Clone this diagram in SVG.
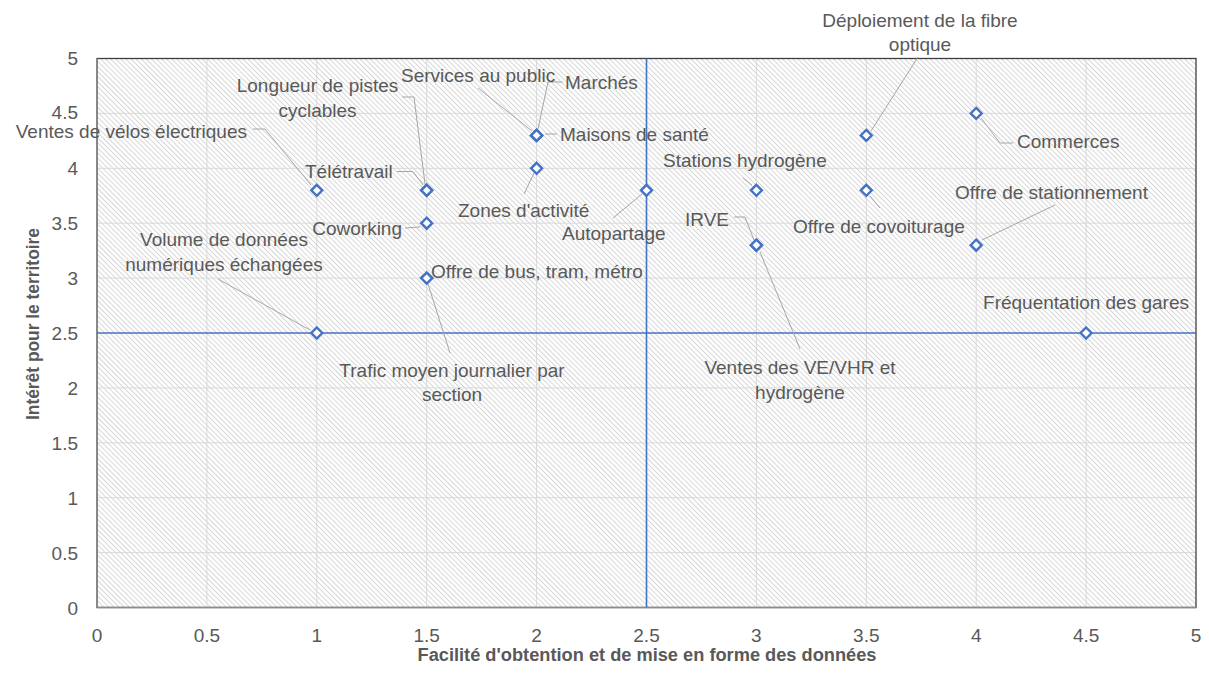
<svg xmlns="http://www.w3.org/2000/svg" width="1209" height="674" viewBox="0 0 1209 674">
<style>
text{font-family:"Liberation Sans",Arial,sans-serif;font-size:19px;fill:#595959}
.tick{font-size:19px}
.title{font-weight:bold;font-size:18px}
.grid line{stroke:#d9d9d9;stroke-width:1}
.leader{fill:none;stroke:#a6a6a6;stroke-width:1}
.ref{stroke:#4472C4;stroke-width:1.6}
</style>
<defs>
<pattern id="hatch" width="3.6" height="3.6" patternUnits="userSpaceOnUse" patternTransform="rotate(-45)">
<rect width="3.6" height="3.6" fill="#ffffff"/>
<line x1="0.5" y1="0" x2="0.5" y2="3.6" stroke="#d6d6d6" stroke-width="1"/>
</pattern>
<path id="dia" d="M0,-5.5 L5.5,0 L0,5.5 L-5.5,0 Z" fill="#ffffff" stroke="#4472C4" stroke-width="2.4" stroke-linejoin="miter"/>
</defs>
<rect width="1209" height="674" fill="#ffffff"/>
<g id="plot-area">
<rect x="97" y="58.5" width="1099" height="549" fill="url(#hatch)"/>
<g class="grid">
<line x1="206.9" y1="58.5" x2="206.9" y2="607.5"/>
<line x1="316.8" y1="58.5" x2="316.8" y2="607.5"/>
<line x1="426.7" y1="58.5" x2="426.7" y2="607.5"/>
<line x1="536.6" y1="58.5" x2="536.6" y2="607.5"/>
<line x1="756.4" y1="58.5" x2="756.4" y2="607.5"/>
<line x1="866.3" y1="58.5" x2="866.3" y2="607.5"/>
<line x1="976.2" y1="58.5" x2="976.2" y2="607.5"/>
<line x1="1086.1" y1="58.5" x2="1086.1" y2="607.5"/>
<line x1="97" y1="552.6" x2="1196" y2="552.6"/>
<line x1="97" y1="497.7" x2="1196" y2="497.7"/>
<line x1="97" y1="442.8" x2="1196" y2="442.8"/>
<line x1="97" y1="387.9" x2="1196" y2="387.9"/>
<line x1="97" y1="278.1" x2="1196" y2="278.1"/>
<line x1="97" y1="223.2" x2="1196" y2="223.2"/>
<line x1="97" y1="168.3" x2="1196" y2="168.3"/>
<line x1="97" y1="113.4" x2="1196" y2="113.4"/>
</g>
<rect x="97" y="58.5" width="1099" height="549" fill="none" stroke="#3f3f3f" stroke-width="1.3"/>
<line x1="97" y1="58.5" x2="97" y2="607.5" stroke="#8c8c8c" stroke-width="1.3"/>
<line x1="97" y1="607.5" x2="1196" y2="607.5" stroke="#8c8c8c" stroke-width="1.3"/>
<line class="ref" x1="646.5" y1="58.5" x2="646.5" y2="607.5"/>
<line class="ref" x1="97" y1="333" x2="1196" y2="333"/>
</g>
<g id="y-ticks" text-anchor="end">
<text x="78" y="65">5</text>
<text x="78" y="119">4.5</text>
<text x="78" y="175">4</text>
<text x="78" y="230">3.5</text>
<text x="78" y="285">3</text>
<text x="78" y="340">2.5</text>
<text x="78" y="395">2</text>
<text x="78" y="450">1.5</text>
<text x="78" y="504.5">1</text>
<text x="78" y="559.5">0.5</text>
<text x="78" y="614.5">0</text>
</g>
<g id="x-ticks" text-anchor="middle">
<text x="97" y="642">0</text>
<text x="206.9" y="642">0.5</text>
<text x="316.8" y="642">1</text>
<text x="426.7" y="642">1.5</text>
<text x="536.6" y="642">2</text>
<text x="646.5" y="642">2.5</text>
<text x="756.4" y="642">3</text>
<text x="866.3" y="642">3.5</text>
<text x="976.2" y="642">4</text>
<text x="1086.1" y="642">4.5</text>
<text x="1196" y="642">5</text>
</g>
<g id="axis-titles">
<text class="title" x="647" y="661" text-anchor="middle" textLength="459" lengthAdjust="spacingAndGlyphs">Facilité d'obtention et de mise en forme des données</text>
<text class="title" transform="translate(39,324) rotate(-90)" text-anchor="middle" textLength="192" lengthAdjust="spacingAndGlyphs">Intérêt pour le territoire</text>
</g>
<g id="connectors">
<polyline class="leader" points="253,129 265,129 311,185"/>
<polyline class="leader" points="402,97 414,97 425,184"/>
<polyline class="leader" points="397,171.5 413,171.5 423,185"/>
<polyline class="leader" points="405,228 420,227"/>
<polyline class="leader" points="218,279 310,330"/>
<polyline class="leader" points="428,284 450,353"/>
<polyline class="leader" points="478,88 532,131"/>
<polyline class="leader" points="563,82 548,82 538,129"/>
<polyline class="leader" points="545,134 557,134"/>
<polyline class="leader" points="524,194 534,173"/>
<polyline class="leader" points="613,218 642,194"/>
<polyline class="leader" points="743,178 752,185"/>
<polyline class="leader" points="734,217 745,217 754,240"/>
<polyline class="leader" points="760,252 800,349"/>
<polyline class="leader" points="918,57 871,131"/>
<polyline class="leader" points="1013,143 1000,143 981,118"/>
<polyline class="leader" points="880,208 870,196"/>
<polyline class="leader" points="1055,205 982,240"/>
</g>
<g id="n-velos"><use href="#dia" x="316.8" y="190.3"/><text x="247" y="137.5" text-anchor="end">Ventes de vélos électriques</text></g>
<g id="n-pistes"><use href="#dia" x="426.7" y="190.3"/><text x="317.5" y="91.5" text-anchor="middle">Longueur de pistes</text><text x="317.5" y="116.5" text-anchor="middle">cyclables</text></g>
<g id="n-teletravail"><use href="#dia" x="426.7" y="190.3"/><text x="305" y="177.5">Télétravail</text></g>
<g id="n-coworking"><use href="#dia" x="426.7" y="223.2"/><text x="402" y="235" text-anchor="end">Coworking</text></g>
<g id="n-bus"><use href="#dia" x="426.7" y="278.1"/><text x="431" y="278">Offre de bus, tram, métro</text></g>
<g id="n-trafic"><use href="#dia" x="426.7" y="278.1"/><text x="452" y="376.5" text-anchor="middle">Trafic moyen journalier par</text><text x="452" y="401" text-anchor="middle">section</text></g>
<g id="n-volume"><use href="#dia" x="316.8" y="333"/><text x="224" y="246" text-anchor="middle">Volume de données</text><text x="224" y="271" text-anchor="middle">numériques échangées</text></g>
<g id="n-services"><use href="#dia" x="536.6" y="135.4"/><text x="401" y="81.5">Services au public</text></g>
<g id="n-marches"><use href="#dia" x="536.6" y="135.4"/><text x="565" y="89">Marchés</text></g>
<g id="n-sante"><use href="#dia" x="536.6" y="135.4"/><text x="560" y="141">Maisons de santé</text></g>
<g id="n-zones"><use href="#dia" x="536.6" y="168.3"/><text x="458" y="217">Zones d'activité</text></g>
<g id="n-autopartage"><use href="#dia" x="646.5" y="190.3"/><text x="562" y="240">Autopartage</text></g>
<g id="n-hydrogene"><use href="#dia" x="756.4" y="190.3"/><text x="663" y="167">Stations hydrogène</text></g>
<g id="n-irve"><use href="#dia" x="756.4" y="245.2"/><text x="729" y="226" text-anchor="end">IRVE</text></g>
<g id="n-ve"><use href="#dia" x="756.4" y="245.2"/><text x="800" y="374" text-anchor="middle">Ventes des VE/VHR et</text><text x="800" y="399" text-anchor="middle">hydrogène</text></g>
<g id="n-fibre"><use href="#dia" x="866.3" y="135.4"/><text x="920" y="26.5" text-anchor="middle">Déploiement de la fibre</text><text x="920" y="51" text-anchor="middle">optique</text></g>
<g id="n-commerces"><use href="#dia" x="976.2" y="113.4"/><text x="1017" y="148">Commerces</text></g>
<g id="n-covoiturage"><use href="#dia" x="866.3" y="190.3"/><text x="793" y="233">Offre de covoiturage</text></g>
<g id="n-stationnement"><use href="#dia" x="976.2" y="245.2"/><text x="955" y="198.5">Offre de stationnement</text></g>
<g id="n-gares"><use href="#dia" x="1086.1" y="333"/><text x="1189" y="309" text-anchor="end">Fréquentation des gares</text></g>
</svg>
